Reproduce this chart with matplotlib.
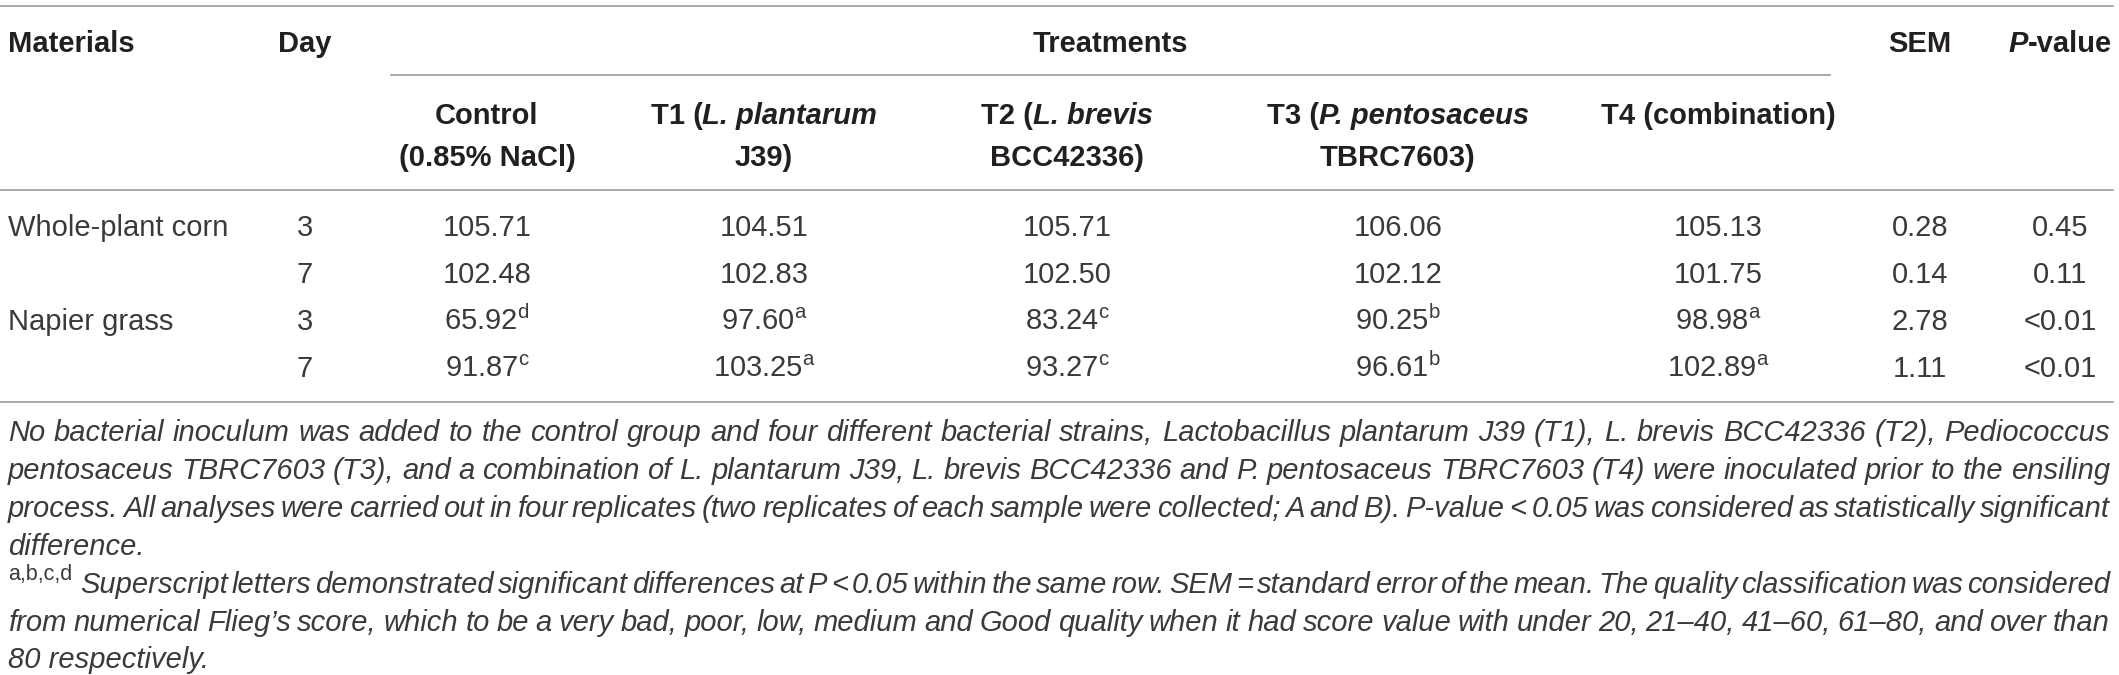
import matplotlib
matplotlib.use("Agg")
import matplotlib.pyplot as plt
from matplotlib import font_manager

# --- data -------------------------------------------------------------
materials = ["Whole-plant corn", "", "Napier grass", ""]
days = ["3", "7", "3", "7"]
control = [105.71, 102.48, 65.92, 91.87]
control_sup = ["", "", "d", "c"]
t1 = [104.51, 102.83, 97.60, 103.25]
t1_sup = ["", "", "a", "a"]
t2 = [105.71, 102.50, 83.24, 93.27]
t2_sup = ["", "", "c", "c"]
t3 = [106.06, 102.12, 90.25, 96.61]
t3_sup = ["", "", "b", "b"]
t4 = [105.13, 101.75, 98.98, 102.89]
t4_sup = ["", "", "a", "a"]
sem = [0.28, 0.14, 2.78, 1.11]
p_values = ["0.45", "0.11", "<0.01", "<0.01"]

# header cells: each line is a list of (text, italic) pieces
treat_heads = [
    [[("Control", False)], [("(0.85% NaCl)", False)]],
    [[("T1 (", False), ("L. plantarum", True)], [("J39)", False)]],
    [[("T2 (", False), ("L. brevis", True)], [("BCC42336)", False)]],
    [[("T3 (", False), ("P. pentosaceus", True)], [("TBRC7603)", False)]],
    [[("T4 (combination)", False)]],
]

notes = [
    "No bacterial inoculum was added to the control group and four different bacterial strains, Lactobacillus plantarum J39 (T1), L. brevis BCC42336 (T2), Pediococcus",
    "pentosaceus TBRC7603 (T3), and a combination of L. plantarum J39, L. brevis BCC42336 and P. pentosaceus TBRC7603 (T4) were inoculated prior to the ensiling",
    "process. All analyses were carried out in four replicates (two replicates of each sample were collected; A and B). P-value < 0.05 was considered as statistically significant",
    "difference.",
    "Superscript letters demonstrated significant differences at P < 0.05 within the same row. SEM = standard error of the mean. The quality classification was considered",
    "from numerical Flieg\u2019s score, which to be a very bad, poor, low, medium and Good quality when it had score value with under 20, 21\u201340, 41\u201360, 61\u201380, and over than",
    "80 respectively.",
]
note_justified = [True, True, True, False, True, True, False]

# --- fonts ------------------------------------------------------------
names = {f.name for f in font_manager.fontManager.ttflist}
FONT = "Liberation Sans" if "Liberation Sans" in names else "DejaVu Sans"

plt.rcParams["font.family"] = [FONT, "DejaVu Sans"]
plt.rcParams["mathtext.fontset"] = "custom"
plt.rcParams["mathtext.rm"] = FONT
plt.rcParams["mathtext.default"] = "regular"

HEAD_C = "#231f20"
BODY_C = "#3a3a3a"
RULE_C = "#9a9a9a"
FS = 21

fig = plt.figure(figsize=(21.19, 6.75), dpi=100)
ax = fig.add_axes([0, 0, 1, 1])
ax.set_xlim(0, 2119)
ax.set_ylim(675, 0)
ax.axis("off")
renderer = fig.canvas.get_renderer()


def text_width(t):
    return t.get_window_extent(renderer).width


def mixed(x, y, pieces, **kw):
    # bold header line built from upright / italic pieces, centred on x
    texts = [ax.text(0, y, s, fontstyle="italic" if it else "normal",
                     ha="left", **kw) for s, it in pieces]
    widths = [text_width(t) for t in texts]
    x0 = x - sum(widths) / 2
    for t, w in zip(texts, widths):
        t.set_x(x0)
        x0 += w


# rules
ax.plot([0, 2113], [6, 6], color=RULE_C, lw=1.2)
ax.plot([391, 1830], [75, 75], color=RULE_C, lw=1.2)
ax.plot([0, 2113], [190, 190], color=RULE_C, lw=1.2)
ax.plot([0, 2113], [402, 402], color=RULE_C, lw=1.2)

# header
x_mat, x_day = 8, 305
x_cols = [487, 764, 1067, 1398, 1718]
x_sem, x_p = 1920, 2060
hkw = dict(fontsize=FS, fontweight="bold", color=HEAD_C, va="baseline")
ax.text(x_mat, 52, "Materials", ha="left", **hkw)
ax.text(x_day, 52, "Day", ha="center", **hkw)
ax.text(1110, 52, "Treatments", ha="center", **hkw)
ax.text(x_sem, 52, "SEM", ha="center", **hkw)
mixed(x_p, 52, [("P", True), ("-value", False)], **hkw)
for x, lines in zip(x_cols, treat_heads):
    for i, pieces in enumerate(lines):
        mixed(x, 124 + 42 * i, pieces, **hkw)

# body rows
bkw = dict(fontsize=FS, color=BODY_C, va="baseline")
row_y = [236, 283, 330, 377]
cols = [(control, control_sup), (t1, t1_sup), (t2, t2_sup), (t3, t3_sup), (t4, t4_sup)]
for r, y in enumerate(row_y):
    ax.text(x_mat, y, materials[r], ha="left", **bkw)
    ax.text(x_day, y, days[r], ha="center", **bkw)
    for x, (vals, sups) in zip(x_cols, cols):
        s = f"{vals[r]:.2f}"
        if sups[r]:
            s += "$^{" + sups[r] + "}$"
        ax.text(x, y, s, ha="center", **bkw)
    ax.text(x_sem, y, f"{sem[r]:.2f}", ha="center", **bkw)
    ax.text(x_p, y, p_values[r], ha="center", **bkw)

# footnotes, justified to the table width
nkw = dict(fontstyle="italic", color=BODY_C, va="baseline", ha="left")
note_y = [441, 479, 517, 555, 593, 631, 668]
x_left, x_right = 8, 2110
starts = [x_left] * len(notes)
starts[4] = 80
MIN_GAP = 4.0


def word_widths(words, fs, y):
    texts = [ax.text(0, y, w, fontsize=fs, **nkw) for w in words]
    return texts, [text_width(t) for t in texts]


for i, line in enumerate(notes):
    y = note_y[i]
    if not note_justified[i]:
        ax.text(starts[i], y, line, fontsize=FS, **nkw)
        continue
    words = line.split(" ")
    avail = x_right - starts[i]
    fs = FS
    texts, widths = word_widths(words, fs, y)
    need = sum(widths) + MIN_GAP * (len(words) - 1)
    if need > avail:
        for t in texts:
            t.remove()
        fs = FS * (avail - MIN_GAP * (len(words) - 1)) / sum(widths)
        texts, widths = word_widths(words, fs, y)
    gap = (avail - sum(widths)) / (len(words) - 1)
    x = starts[i]
    for t, w in zip(texts, widths):
        t.set_x(x)
        x += w + gap

ax.text(x_left, note_y[4] - 13, "a,b,c,d", fontsize=15.5,
        color=BODY_C, va="baseline", ha="left")

fig.savefig("out.png", dpi=100)
